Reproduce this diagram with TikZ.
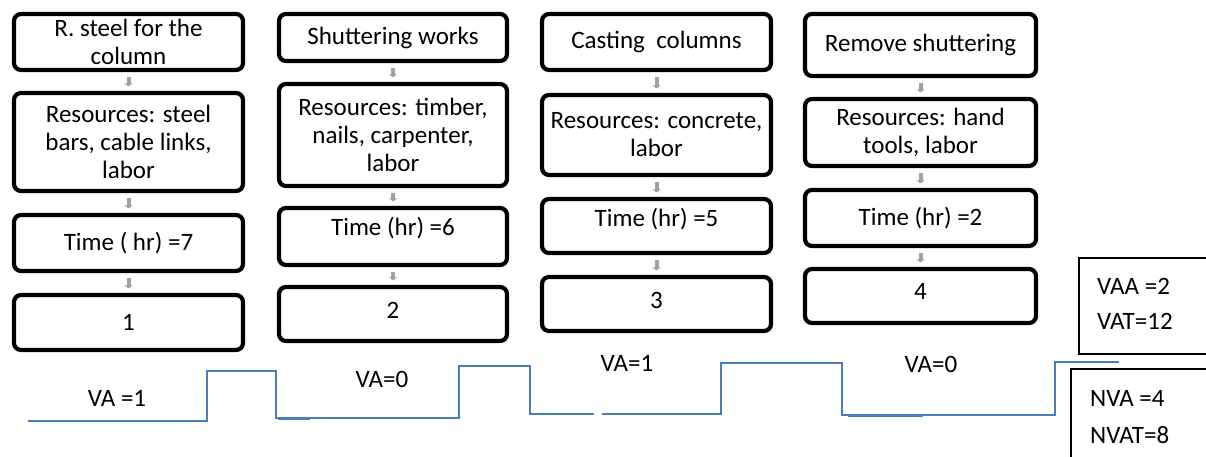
\documentclass[tikz,border=0pt]{standalone}
\usepackage{fontspec}
\setmainfont{Carlito}
\usetikzlibrary{arrows.meta}
\definecolor{stepblue}{HTML}{4A7EBB}
\definecolor{arrowgrey}{HTML}{A0A0A0}

\begin{document}
\begin{tikzpicture}[x=1pt,y=-1pt,
  font=\fontsize{25}{28}\selectfont,
  stage/.style={draw=black, line width=4.2pt, rounded corners=7pt, inner sep=0pt, align=center, fill=white},
  lift/.style={text height=19pt, text depth={6pt+2*(#1)}},
  flow/.style={draw=arrowgrey, line width=4pt, -{Triangle[width=8pt,length=3pt]}, shorten <=4.5pt, shorten >=4.5pt},
  tally/.style={draw=black, line width=2pt, inner sep=0pt, anchor=north west},
  caption/.style={inner sep=0pt},
  steps/.style={draw=stepblue, line width=2pt},
]
\useasboundingbox (0,0) rectangle (1206,457);
\clip (0,0) rectangle (1206,457);

% column 1: reinforcement steel
\node[stage, minimum width=229pt, minimum height=56pt] (s1a) at (128.5,42) {R. steel for the\\column};
\node[stage, minimum width=229pt, minimum height=98pt] (s1b) at (128.5,142) {Resources: steel\\bars, cable links,\\labor};
\node[stage, minimum width=229pt, minimum height=56pt] (s1c) at (128.5,243) {Time ( hr) =7};
\node[stage, minimum width=229pt, minimum height=55pt] (s1d) at (128.5,322.5) {1};

% column 2: shuttering
\node[stage, minimum width=228pt, minimum height=47pt] (s2a) at (393,37.5) {Shuttering works};
\node[stage, minimum width=228pt, minimum height=102pt] (s2b) at (393,135) {Resources: timber,\\nails, carpenter,\\labor};
\node[stage, lift=8pt, minimum width=228pt, minimum height=57pt] (s2c) at (393,236.5) {Time (hr) =6};
\node[stage, lift=2pt, minimum width=228pt, minimum height=54pt] (s2d) at (393,314) {2};

% column 3: casting
\node[stage, minimum width=229pt, minimum height=56pt] (s3a) at (656.5,42) {Casting\ \ columns};
\node[stage, minimum width=229pt, minimum height=80pt] (s3b) at (656.5,135) {Resources: concrete,\\labor};
\node[stage, lift=6pt, minimum width=229pt, minimum height=54pt] (s3c) at (656.5,226) {Time (hr) =5};
\node[stage, lift=2pt, minimum width=229pt, minimum height=54pt] (s3d) at (656.5,304) {3};

% column 4: stripping
\node[stage, minimum width=231pt, minimum height=62pt] (s4a) at (920.5,45) {Remove shuttering};
\node[stage, minimum width=231pt, minimum height=67pt] (s4b) at (920.5,132.5) {Resources: hand\\tools, labor};
\node[stage, minimum width=231pt, minimum height=56pt] (s4c) at (920.5,218) {Time (hr) =2};
\node[stage, lift=3pt, minimum width=231pt, minimum height=54pt] (s4d) at (920.5,296) {4};

% flow arrows inside each column
\foreach \c in {1,2,3,4}{
  \draw[flow] (s\c a) -- (s\c b);
  \draw[flow] (s\c b) -- (s\c c);
  \draw[flow] (s\c c) -- (s\c d);
}

% value-added step line
\draw[steps] (28,421) -- (207,421) -- (207,371) -- (276,371) -- (276,418) -- (459,418)
  -- (459,366) -- (530,366) -- (530,414) -- (594,414);
\draw[steps] (602,414) -- (721,414) -- (721,363) -- (842,363) -- (842,415) -- (1055,415)
  -- (1055,362) -- (1119,362);
\draw[steps, line width=3pt] (278,418) -- (310,418);
\draw[steps, line width=3pt] (848,415) -- (923,415);

% step labels
\node[caption, anchor=base] (va1) at (117,406) {VA =1};
\node[caption, anchor=base] (va2) at (382,387) {VA=0};
\node[caption, anchor=base] (va3) at (627,371) {VA=1};
\node[caption, anchor=base] (va4) at (931,372) {VA=0};

% totals
\node[tally, minimum width=200pt, minimum height=96pt] (vaabox) at (1078,257) {};
\node[caption, anchor=base west] (vaa) at (1097,294) {VAA =2};
\node[caption, anchor=base west] (vat) at (1097,329) {VAT=12};
\node[tally, minimum width=200pt, minimum height=200pt] (nvabox) at (1070,368) {};
\node[caption, anchor=base west] (nva) at (1090,406) {NVA =4};
\node[caption, anchor=base west] (nvat) at (1090,443) {NVAT=8};
\end{tikzpicture}
\end{document}
